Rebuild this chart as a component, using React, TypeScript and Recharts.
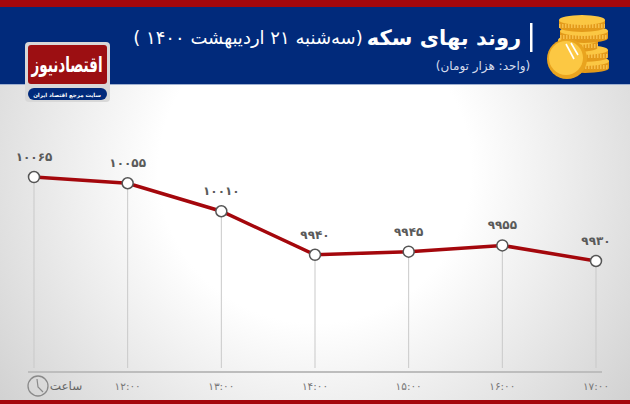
import React from 'react';
import { LineChart, Line, XAxis, YAxis, ReferenceLine, LabelList } from 'recharts';

// Data
const hours = ['۱۲:۰۰', '۱۳:۰۰', '۱۴:۰۰', '۱۵:۰۰', '۱۶:۰۰', '۱۷:۰۰'];
const hourSlots = ['start', ...hours];
const prices = [10065, 10055, 10010, 9940, 9945, 9955, 9930];
const priceLabels = ['۱۰۰۶۵', '۱۰۰۵۵', '۱۰۰۱۰', '۹۹۴۰', '۹۹۴۵', '۹۹۵۵', '۹۹۳۰'];

const chartData = hourSlots.map((hour, i) => ({ hour, price: prices[i], label: priceLabels[i] }));

const FONT = '"DejaVu Sans", sans-serif';
const NAVY = '#012a7b';
const RED = '#a4070c';

// Decorative stack of coins beside the title
const Coins = () => {
  const layers = [
    [585, 64, 24],
    [583, 53, 25],
    [578, 43, 20],
    [584, 34, 24],
    [582, 23, 23],
  ];
  return (
    <g>
      {layers.map(([cx, cy, rx], i) => (
        <g key={i}>
          <rect x={cx - rx} y={cy - 3} width={rx * 2} height={7} fill="#e39a1a" />
          <ellipse cx={cx} cy={cy + 4} rx={rx} ry={5} fill="#e39a1a" />
          <line x1={cx - rx} y1={cy + 3} x2={cx + rx} y2={cy + 3} stroke="#f7c04a" strokeWidth={4} strokeDasharray="1.5 1.5" />
          <ellipse cx={cx} cy={cy - 3} rx={rx} ry={5} fill="#fbc743" />
        </g>
      ))}
      <circle cx={567} cy={59} r={20} fill="#e9a41f" />
      <circle cx={566} cy={58} r={17} fill="#fcc843" />
      <line x1={566} y1={44} x2={574} y2={59} stroke="#fff" strokeWidth={1.6} />
      <line x1={571} y1={43} x2={578} y2={55} stroke="#fff" strokeWidth={1.6} />
    </g>
  );
};

const Header = () => (
  <svg width={630} height={404} style={{ position: 'absolute', left: 0, top: 0 }}>
    <rect x={0} y={0} width={630} height={7} fill={RED} />
    <rect x={0} y={7} width={630} height={77} fill={NAVY} />
    <rect x={0} y={84} width={630} height={1} fill="#9fb0d0" />
    <rect x={0} y={400} width={630} height={4} fill={RED} />
    <Coins />
    <rect x={530} y={23} width={2.5} height={29} fill="#fff" />
    <text x={444} y={45} textAnchor="middle" direction="rtl" fontFamily={FONT} fontSize={21} fontWeight="bold" fill="#fff">
      روند بهای سکه
    </text>
    <text x={248} y={44} textAnchor="middle" direction="rtl" fontFamily={FONT} fontSize={18} fill="#fff">
      (سه‌شنبه ۲۱ اردیبهشت ۱۴۰۰ )
    </text>
    <text x={483} y={70} textAnchor="middle" direction="rtl" fontFamily={FONT} fontSize={12} fill="#d5dcec">
      (واحد: هزار تومان)
    </text>
    <rect x={25} y={42} width={85} height={60} rx={4} fill="#d8d8d8" />
    <rect x={28} y={45} width={79} height={39} rx={3} fill="#9c0f12" />
    <text transform="translate(67 72) scale(1 1.6)" textAnchor="middle" direction="rtl" fontFamily={FONT} fontSize={13.5} fontWeight="bold" fill="#fff">
      اقتصادنیوز
    </text>
    <rect x={28} y={88} width={79} height={12} rx={6} fill={NAVY} />
    <text x={67} y={97} textAnchor="middle" direction="rtl" fontFamily={FONT} fontSize={5.5} fontWeight="bold" fill="#fff">
      سایت مرجع اقتصاد ایران
    </text>
    <circle cx={38} cy={386} r={10} fill="none" stroke="#8a8a8a" strokeWidth={1.3} />
    <path d="M37 379 L38 387 L43 392" fill="none" stroke="#8a8a8a" strokeWidth={1.2} />
    <text x={66} y={390} textAnchor="middle" direction="rtl" fontFamily={FONT} fontSize={12} fill="#666">
      ساعت
    </text>
  </svg>
);

const PriceLabel = (props: any) => {
  const { x, y, value } = props;
  return (
    <text x={x} y={y - 20} textAnchor="middle" dominantBaseline="central" fontFamily={FONT} fontSize={12} fontWeight="bold" letterSpacing={1} fill="#5a5a5a">
      {value}
    </text>
  );
};

export default function App() {
  return (
    <div
      style={{
        position: 'absolute',
        left: 0,
        top: 0,
        width: 630,
        height: 404,
        overflow: 'hidden',
        background: 'radial-gradient(ellipse 62% 95% at 50% 42%, #ffffff 40%, #d2d2d2 100%)',
      }}
    >
      <Header />
      <div style={{ position: 'absolute', left: 0, top: 0 }}>
        <LineChart width={630} height={404} data={chartData} margin={{ top: 85, right: 28, bottom: 0, left: 28 }}>
          <XAxis
            dataKey="hour"
            height={32}
            interval={0}
            padding={{ left: 6, right: 6 }}
            axisLine={{ stroke: '#bdbdbd', strokeWidth: 2 }}
            tickLine={false}
            tickMargin={5}
            tick={{ fontFamily: FONT, fontSize: 10.5, fill: '#777' }}
            tickFormatter={(v: string) => (v === 'start' ? '' : v)}
          />
          <YAxis hide domain={[9751.6, 10212.9]} />
          {chartData.map((d) => (
            <ReferenceLine
              key={d.hour}
              segment={[
                { x: d.hour, y: d.price },
                { x: d.hour, y: 9758 },
              ]}
              stroke="#c9c9c9"
              strokeWidth={1}
            />
          ))}
          <Line
            dataKey="price"
            stroke={RED}
            strokeWidth={3.5}
            isAnimationActive={false}
            dot={{ r: 5.5, fill: '#fff', stroke: '#555', strokeWidth: 1.5, fillOpacity: 1 }}
          >
            <LabelList dataKey="label" content={<PriceLabel />} />
          </Line>
        </LineChart>
      </div>
    </div>
  );
}
